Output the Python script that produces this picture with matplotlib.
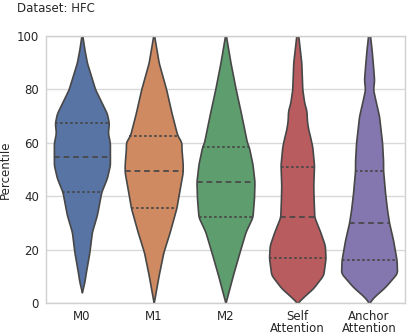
import numpy as np
import matplotlib
matplotlib.use("Agg")
from matplotlib import pyplot as plt

categories = ["M0", "M1", "M2", "Self\nAttention", "Anchor\nAttention"]
colors = ["#5874a5", "#d08a62", "#5e9e6e", "#b85c60", "#8476ae"]

# outline of each violin: percentile level -> half width (category units)
m0_levels = [4, 8, 11.6, 19, 26.6, 33, 41.6, 46.8, 51.7, 55, 60, 63.7, 67.4, 71, 80, 90, 95, 100]
m0_widths = [0, .035, .056, .104, .139, .209, .27, .348, .39, .39, .39, .362, .376, .348, .185, .07, .035, .007]
m1_levels = [0, 10.5, 19, 26.6, 35.6, 41.6, 49, 52, 58.5, 60, 63, 71, 80, 90, 100]
m1_widths = [0, .07, .135, .223, .316, .355, .404, .404, .385, .39, .327, .25, .174, .07, .007]
m2_levels = [0, 10.5, 19, 26.6, 29, 32.2, 39.3, 45.4, 52, 58.5, 60, 71, 80, 90, 100]
m2_widths = [0, .104, .195, .279, .32, .376, .397, .404, .376, .325, .30, .216, .143, .07, .007]
self_levels = [0, 1.9, 5.6, 10.5, 16.9, 21.7, 26.6, 32.2, 39.3, 44, 51.7, 58.5, 62, 65, 68, 72, 75, 80, 90, 100]
self_widths = [0, .07, .223, .362, .394, .383, .32, .237, .227, .223, .233, .209, .181, .153, .135, .128, .097, .07, .056, .014]
anchor_levels = [0, 2.2, 6, 11.2, 16.1, 23.6, 30, 34.8, 41.2, 49.8, 53.2, 60, 70, 76, 80, 83.5, 88.5, 95, 100]
anchor_widths = [0, .063, .223, .39, .383, .334, .279, .251, .223, .195, .195, .181, .139, .088, .056, .07, .056, .035, .014]

levels = [m0_levels, m1_levels, m2_levels, self_levels, anchor_levels]
widths = [m0_widths, m1_widths, m2_widths, self_widths, anchor_widths]

# lower quartile, median, upper quartile
quartiles = [
    [41.6, 54.7, 67.4],
    [35.5, 49.6, 62.5],
    [32.1, 45.4, 58.5],
    [16.7, 32.3, 51.1],
    [16.1, 29.8, 49.4],
]

edge = "#474747"
text_color = "#262626"

fig = plt.figure(figsize=(4.07, 3.35), dpi=100)
ax = fig.add_axes([0.113, 0.0955, 0.882, 0.797])

for i, (lv, wd) in enumerate(zip(levels, widths)):
    y = np.linspace(lv[0], lv[-1], 400)
    w = np.interp(y, lv, wd)
    k = 9
    pad = np.pad(w, k // 2, mode="edge")
    w = np.convolve(pad, np.ones(k) / k, mode="valid")
    w[0] = wd[0]
    w[-1] = wd[-1]
    ax.fill_betweenx(y, i - w, i + w, facecolor=colors[i], edgecolor=edge,
                     linewidth=1.2, zorder=2)
    for j, q in enumerate(quartiles[i]):
        hw = np.interp(q, y, w)
        dashes = (3.3, 2.2) if j == 1 else (1.5, 1.4)
        ax.plot([i - hw, i + hw], [q, q], color=edge, linewidth=1.25,
                dashes=dashes, zorder=3)

ax.set_xlim(-0.5, 4.5)
ax.set_ylim(0, 100)
ax.set_xticks(range(len(categories)))
ax.set_xticklabels(categories, fontsize=8.5, color=text_color, linespacing=0.95)
ax.set_yticks([0, 20, 40, 60, 80, 100])
ax.tick_params(axis="y", labelsize=8.5, colors=text_color, length=0, pad=5)
ax.tick_params(axis="x", length=0, pad=5)
ax.yaxis.grid(True, color="#d9d9d9", linewidth=1.0, zorder=0)
ax.set_axisbelow(True)
for s in ax.spines.values():
    s.set_color("#d0d0d0")
    s.set_linewidth(1.0)
ax.set_ylabel("Percentile", fontsize=8.5, color=text_color)
ax.yaxis.set_label_coords(-0.095, 0.5)

fig.text(0.042, 0.995, "Dataset: HFC", fontsize=8.5, color=text_color, ha="left", va="top")

fig.savefig("out.png", dpi=100)
